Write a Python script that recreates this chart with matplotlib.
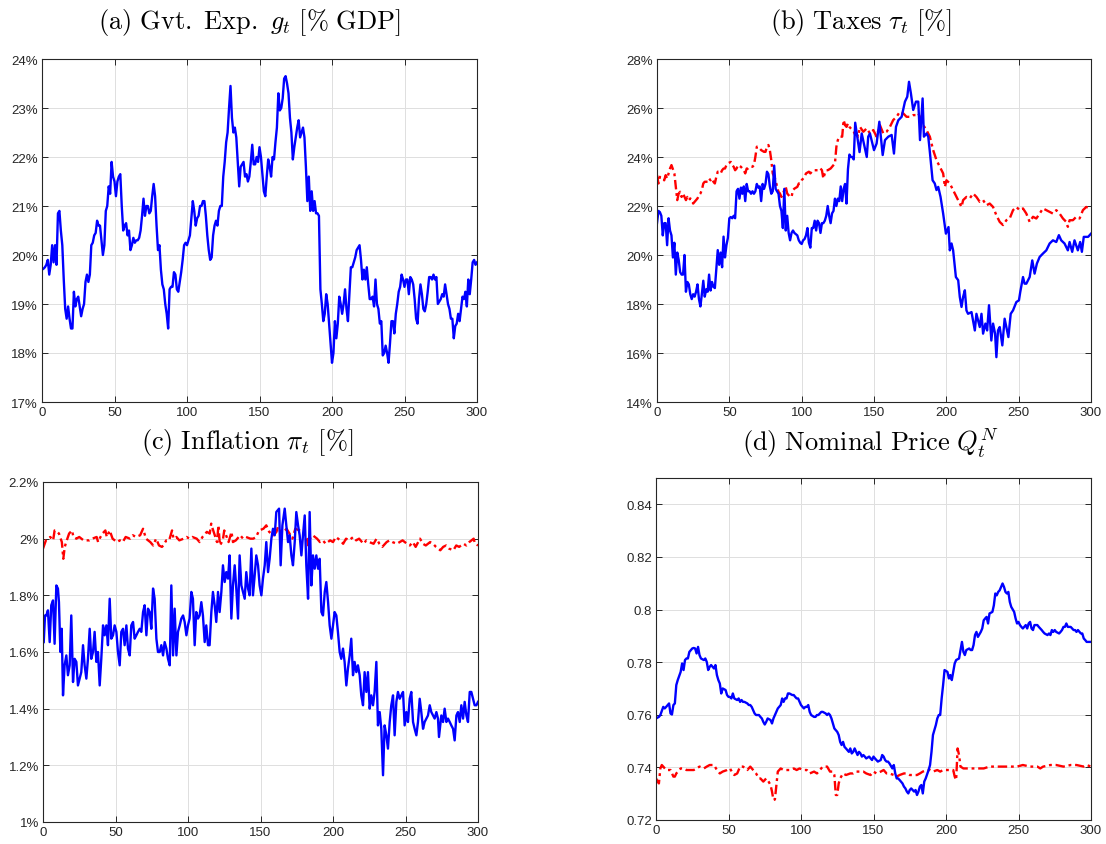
import numpy as np
import matplotlib
matplotlib.use("Agg")
import matplotlib.pyplot as plt
from matplotlib.ticker import FuncFormatter

plt.rcParams['font.family'] = ['Liberation Sans', 'DejaVu Sans']
plt.rcParams['mathtext.fontset'] = 'cm'

# ---------------- (a) Government expenditure [% GDP] ----------------
gov_t = list(range(0, 301))
gov = [19.7, 19.72, 19.75, 19.8, 19.9, 19.6, 19.8, 20.2, 19.85, 20.2,
       19.8, 20.85, 20.9, 20.5, 20.2, 19.5, 18.9, 18.7, 18.95, 18.7,
       18.5, 18.5, 19.25, 18.95, 19.1, 19.15, 18.95, 18.75, 18.9, 19.0,
       19.45, 19.6, 19.45, 19.6, 20.2, 20.25, 20.4, 20.45, 20.7, 20.6,
       20.6, 20.3, 20.0, 20.2, 20.9, 21.0, 21.4, 21.25, 21.9, 21.6,
       21.5, 21.2, 21.5, 21.6, 21.65, 21.0, 20.5, 20.6, 20.65, 20.4,
       20.5, 20.1, 20.2, 20.35, 20.25, 20.3, 20.3, 20.35, 20.5, 20.8,
       21.15, 20.8, 21.0, 21.0, 20.85, 20.9, 21.2, 21.45, 21.2, 20.6,
       20.1, 20.2, 19.7, 19.4, 19.3, 19.0, 18.8, 18.5, 19.3, 19.35,
       19.35, 19.65, 19.6, 19.3, 19.25, 19.45, 19.65, 19.9, 20.2, 20.25,
       20.2, 20.3, 20.4, 20.75, 21.1, 20.9, 20.6, 20.75, 20.8, 21.0,
       21.0, 21.1, 21.1, 20.8, 20.4, 20.1, 19.9, 19.95, 20.4, 20.6,
       20.7, 20.6, 20.9, 21.0, 21.0, 21.6, 21.9, 22.3, 22.5, 23.0,
       23.45, 22.8, 22.5, 22.6, 22.4, 21.9, 21.4, 21.8, 21.85, 21.9,
       21.6, 21.65, 21.5, 21.6, 21.9, 22.25, 21.85, 21.85, 22.0, 21.9,
       22.2, 22.0, 21.65, 21.3, 21.2, 21.6, 21.95, 21.8, 21.6, 22.0,
       21.95, 22.3, 22.6, 23.3, 22.95, 23.0, 23.2, 23.6, 23.65, 23.5,
       23.3, 22.8, 22.5, 21.95, 22.2, 22.4, 22.6, 22.75, 22.4, 22.5,
       22.6, 22.4, 21.8, 21.1, 21.6, 20.9, 21.3, 20.9, 21.1, 20.85,
       20.85, 20.8, 19.3, 19.0, 18.65, 18.8, 19.2, 19.0, 18.6, 18.2,
       17.8, 18.0, 18.65, 18.3, 18.6, 19.15, 19.0, 18.8, 19.0, 19.3,
       18.9, 18.65, 19.2, 19.75, 19.75, 19.85, 19.95, 20.1, 20.15, 20.2,
       19.9, 19.5, 19.7, 19.5, 19.75, 19.4, 19.1, 19.1, 19.15, 18.95,
       19.5, 19.0, 18.9, 18.6, 18.65, 17.95, 18.0, 18.15, 18.0, 17.8,
       18.2, 18.65, 18.65, 18.4, 18.8, 19.0, 19.25, 19.35, 19.6, 19.5,
       19.35, 19.5, 19.5, 19.2, 19.55, 19.5, 19.4, 19.1, 18.7, 18.6,
       19.1, 19.4, 19.2, 18.9, 18.85, 19.0, 19.25, 19.55, 19.55, 19.5,
       19.6, 19.5, 19.55, 19.0, 19.05, 19.1, 19.2, 19.15, 19.4, 19.2,
       19.0, 18.9, 18.7, 18.7, 18.3, 18.55, 18.6, 18.8, 18.65, 18.9,
       19.15, 19.1, 19.25, 18.95, 19.5, 19.2, 19.5, 19.85, 19.9, 19.8, 19.85]

# ---------------- (b) Taxes [%] ----------------
tax_blue_t = list(range(0, 141)) + [
    141.5, 145, 146, 147.2, 150, 151.8, 153.7, 156, 157.6, 159.9, 162.2, 163.8,
    165.2, 166.8, 169.1, 171.4, 173, 174.2, 175.5, 177.1, 179, 180.6, 181.8,
    183.6, 184.5, 186.3, 187.5, 188.6, 190.5, 192, 193.2, 194.4, 196, 197.8,
    199.7, 201.5, 202.4, 203.6, 204.7, 206.6, 208.2, 209.3, 210.5, 211.6, 212.8,
    213.9, 215, 217.4, 219.7, 220.8, 223.1, 224.3, 225.4, 227, 228.2, 229.5,
    231.1, 232.3, 233.7, 234.6, 235.7, 236.9, 238.7, 240.3, 241.5, 242.9, 244.5,
    246.1, 248.4, 250.2, 251.1, 253, 254.1, 255.3, 257.6, 259.4, 261, 262.6,
    264.5, 266.8, 269.1, 271.4, 273.7, 276, 277.8, 279.4, 281.7, 284, 285.2,
    287, 288.6, 290.9, 292.5, 293.7, 295, 296.7, 298, 300]
tax_blue = [
    21.3, 21.8, 21.75, 21.6, 20.8, 21.3, 21.3, 20.4, 21.5, 21.0,
    20.8, 19.9, 20.5, 19.2, 20.1, 19.8, 19.3, 19.2, 19.2, 20.0,
    18.5, 18.9, 18.8, 18.4, 18.2, 18.4, 18.3, 18.5, 18.8, 18.2,
    17.9, 18.4, 18.95, 18.3, 18.6, 18.5, 19.2, 18.55, 18.9, 18.7,
    18.65, 19.4, 20.2, 19.6, 20.1, 19.5, 20.75, 19.9, 20.4, 20.7,
    21.5, 21.55, 21.5, 21.6, 21.5, 22.6, 22.7, 22.3, 22.75, 22.5,
    22.8, 22.2, 22.9, 22.6, 22.6, 22.5, 22.6, 22.5, 22.6, 22.9,
    22.75, 22.8, 22.2, 22.9, 22.7, 22.9, 23.4, 23.3, 22.8, 22.5,
    22.6, 23.65, 22.7, 22.6, 22.5, 22.0, 21.8, 21.1, 22.7, 21.0,
    21.6, 20.9, 20.6, 20.9, 21.0, 20.9, 20.85, 20.8, 20.6, 20.5,
    20.45, 20.6, 20.65, 20.8, 21.1, 20.5, 20.3, 21.1, 21.1, 21.4,
    21.0, 21.4, 21.3, 20.9, 21.3, 21.3, 21.4, 21.6, 22.0, 21.6,
    21.3, 21.7, 21.8, 22.3, 22.0, 22.3, 22.2, 22.8, 22.2, 22.7,
    22.9, 22.1, 23.5, 24.1, 24.0, 24.0, 23.9, 25.4, 25.0, 24.6, 24.2,
    24.96, 24.0, 24.83, 24.96, 24.28, 24.55, 25.44, 24.08, 24.69, 24.83, 24.9, 24.14,
    25.23, 25.5, 25.64, 26.26, 26.46, 27.07, 26.6, 25.92, 26.26, 26.26, 24.69,
    26.39, 24.83, 24.96, 24.83, 24.21, 23.05, 22.92, 22.65, 22.78, 22.37, 21.69,
    20.87, 21.14, 20.19, 20.47, 20.19, 19.1, 18.97, 18.29, 17.88, 18.29, 18.56,
    17.74, 17.6, 17.67, 16.92, 17.6, 17.06, 17.6, 16.79, 17.2, 16.92, 17.95,
    16.51, 17.2, 16.79, 15.83, 16.92, 17.06, 16.31, 17.4, 17.06, 16.65, 17.6,
    17.74, 18.08, 18.15, 18.49, 19.1, 18.83, 18.83, 19.1, 19.78, 19.24, 19.65,
    19.92, 20.06, 20.19, 20.47, 20.6, 20.53, 20.81, 20.6, 20.47, 20.19, 20.53,
    20.13, 20.6, 20.19, 20.53, 20.13, 20.74, 20.74, 20.74, 20.87]

tax_red_t = [0, 1, 2, 3, 5, 6, 7, 8, 9, 10, 12, 14, 15, 16, 17, 18, 20, 21, 22, 23,
             24, 25, 26, 28, 29, 30, 31, 32, 33, 35, 36, 37, 38, 39, 40, 41, 42, 44,
             45, 46, 47, 48, 49, 51, 52, 53, 54, 55, 56, 58, 59, 60, 61, 62, 63, 64,
             66, 67, 68, 69, 70, 71, 72, 74, 75, 76, 77, 78, 79, 80, 82, 83, 84, 85,
             86, 87, 89, 90, 91, 92, 93, 94, 95, 97, 98, 99, 100, 101, 102, 103, 105,
             106, 107, 108, 109, 110, 112, 113, 114, 115, 116, 117, 118, 120, 121,
             122, 123, 124, 125, 126, 128, 129, 130, 131, 132, 133, 135, 136, 137,
             138, 139,
             140.3, 142.6, 145, 147.2, 149.5, 151.8, 154.1, 156.4, 158.7, 161, 163.3,
             165.6, 167.9, 170.2, 172.5, 174.8, 177.1, 179.4, 180.6, 181.7, 184, 186.3,
             188.6, 190.9, 193.2, 195.5, 197.8, 199, 200.1, 202.4, 204.7, 207, 209.3,
             210.5, 211.6, 213.9, 216.2, 218.5, 220.8, 223.1, 225.4, 227.7, 230, 232.3,
             234.6, 236.9, 239.2, 241.5, 243.8, 246.1, 248.4, 250.7, 253, 255.3, 257.6,
             259.9, 262.2, 264.5, 266.8, 269.1, 271.4, 273.7, 276, 278.3, 280.6, 282.9,
             284, 285.2, 287.5, 289.8, 292.1, 294.4, 296.7, 300]
tax_red = [23.26, 22.92, 23.19, 23.12, 23.05, 23.26, 23.12, 23.33, 23.53, 23.67, 23.33,
           22.24, 22.51, 22.58, 22.37, 22.51, 22.24, 22.37, 22.24, 22.31, 22.24, 22.1,
           22.17, 22.31, 22.44, 22.51, 22.65, 22.92, 22.99, 22.99, 23.12, 23.05, 23.12,
           22.99, 22.92, 23.19, 23.4, 23.33, 23.46, 23.53, 23.53, 23.67, 23.74, 23.8,
           23.67, 23.6, 23.46, 23.53, 23.67, 23.6, 23.53, 23.46, 23.33, 23.53, 23.53,
           23.6, 23.6, 23.67, 24.01, 24.42, 24.42, 24.35, 24.28, 24.21, 24.21, 24.42,
           24.49, 24.28, 23.87, 23.33, 23.05, 22.78, 22.58, 22.51, 22.37, 22.51, 22.78,
           22.51, 22.44, 22.37, 22.37, 22.65, 22.71, 22.78, 22.92, 22.92, 23.05, 23.12,
           23.19, 23.33, 23.4, 23.33, 23.4, 23.46, 23.46, 23.46, 23.46, 23.53, 23.46,
           23.12, 23.33, 23.46, 23.46, 23.53, 23.6, 23.67, 23.74, 24.42, 24.69, 24.83,
           24.83, 25.51, 25.3, 25.23, 25.37, 25.23, 25.1, 25.03, 24.9, 24.96, 24.83,
           25.23, 25.03, 25.17, 24.96, 25.1, 24.83, 25.3, 24.96, 25.03, 25.23, 25.51,
           25.64, 25.85, 25.78, 25.64, 25.64, 25.71, 25.71, 25.78, 25.64, 25.3, 25.1,
           24.83, 24.28, 23.87, 23.6, 23.33, 22.78, 23.05, 22.92, 22.65, 22.37, 22.1,
           21.96, 22.24, 22.37, 22.31, 22.51, 22.37, 22.17, 22.24, 22.03, 22.1, 21.96,
           21.62, 21.35, 21.22, 21.42, 21.49, 21.83, 21.96, 21.83, 21.9, 21.69, 21.35,
           21.56, 21.49, 21.69, 21.9, 21.83, 21.76, 21.69, 21.83, 21.69, 21.49, 21.35,
           21.15, 21.42, 21.42, 21.56, 21.49, 21.83, 21.96, 21.9]

# ---------------- (c) Inflation [%] ----------------
inf_blue_t = [0.5, 1.4, 2.3, 3.4, 4.6, 5.7, 6.9, 8.0, 9.2, 10.3, 11.0, 12.0, 12.9, 13.8,
              14.9, 16.1, 17.2, 18.4, 19.5, 20.7, 21.8, 23.0, 24.1, 25.3, 26.4, 27.6,
              28.7, 29.9, 31.0, 32.2, 33.3, 34.5, 35.6, 36.8, 37.9, 39.1, 40.2, 41.4,
              42.5, 43.7, 44.8, 46.0, 47.1, 48.3, 49.4, 50.6, 51.7, 52.9, 54.0, 55.2,
              56.3, 57.5, 58.6, 59.8, 60.9, 62.1, 63.2, 64.4, 65.5, 66.7, 67.8, 69.0,
              70.1, 71.3, 72.4, 73.6, 74.7, 75.9, 77.0, 78.2, 79.3, 80.5, 81.6, 82.8,
              83.9, 85.1, 86.2, 87.4, 88.5, 89.7, 90.8, 92.0, 93.1, 94.3, 95.4, 96.6,
              97.7, 98.9, 100.0, 101.1, 102.3, 103.4, 104.6, 105.7, 106.9, 108.0,
              109.2, 110.3, 111.5, 112.6, 113.8, 114.9, 116.1, 117.2, 118.4, 119.5,
              120.7, 121.8, 123.0, 124.1, 125.3, 126.4, 127.6, 128.7, 129.9, 131.0,
              132.2, 133.3, 134.5, 135.6, 136.8, 137.9, 139.1, 140.2, 141.4, 142.5,
              143.7, 144.8, 146.0, 147.1, 148.3, 149.4, 150.6, 151.7, 152.9, 154.0,
              155.2, 156.3, 157.5, 158.6, 159.8, 160.9,
              162.8, 163.9, 165.1, 166.7, 167.8, 169.0, 170.1, 171.3, 172.4, 173.6,
              174.7, 175.9, 177.0, 178.2, 179.3, 180.5, 181.6, 182.8, 183.9, 185.1,
              186.2, 187.4, 188.5, 189.7, 190.8, 192.0, 193.1, 194.3, 195.4, 196.6,
              197.7, 198.9, 200.0, 201.1, 202.3, 203.4, 204.6, 205.7, 206.9, 208.0,
              209.2, 210.3, 211.5, 212.6, 213.8, 214.9, 216.1, 217.2, 218.4, 219.5,
              220.7, 221.8, 223.0, 224.1, 225.3, 226.4, 227.6, 228.7, 229.9, 231.0,
              232.2, 233.3, 234.5, 235.6, 236.8, 237.9, 239.1, 240.2, 241.4, 242.5,
              243.7, 244.8, 246.0, 247.1, 248.3, 249.4, 250.6, 251.7, 252.9, 254.0,
              255.2, 256.3, 257.5, 258.6, 259.8, 260.9, 262.1, 263.2, 264.4, 265.5,
              266.7, 267.8, 269.0, 270.1, 271.3, 272.4, 273.1, 274.7, 275.9, 277.0,
              278.2, 279.3, 280.5, 281.6, 282.8, 283.9, 285.1, 286.2, 287.4, 288.5,
              289.7, 290.8, 292.0, 293.1, 294.3, 295.4, 296.6, 297.7, 298.9, 300.0]
inf_blue = [1.635, 1.729, 1.729, 1.747, 1.635, 1.765, 1.782, 1.629, 1.835, 1.824, 1.776,
            1.6, 1.682, 1.447, 1.553, 1.588, 1.518, 1.553, 1.729, 1.494, 1.576, 1.565,
            1.482, 1.506, 1.529, 1.624, 1.553, 1.506, 1.576, 1.682, 1.576, 1.6, 1.671,
            1.565, 1.6, 1.482, 1.576, 1.694, 1.659, 1.694, 1.624, 1.788, 1.647, 1.659,
            1.694, 1.671, 1.6, 1.553, 1.671, 1.682, 1.624, 1.694, 1.612, 1.588, 1.694,
            1.706, 1.647, 1.659, 1.671, 1.682, 1.671, 1.741, 1.765, 1.659, 1.753, 1.741,
            1.682, 1.824, 1.788, 1.647, 1.6, 1.6, 1.624, 1.588, 1.635, 1.612, 1.576,
            1.553, 1.835, 1.588, 1.753, 1.588, 1.671, 1.694, 1.718, 1.729, 1.706, 1.659,
            1.694, 1.718, 1.812, 1.788, 1.624, 1.741, 1.718, 1.729, 1.776, 1.729, 1.635,
            1.694, 1.624, 1.624, 1.741, 1.812, 1.765, 1.706, 1.812, 1.741, 1.812, 1.906,
            1.847, 1.882, 1.859, 1.941, 1.718, 1.835, 1.906, 1.824, 1.718, 1.941, 1.835,
            1.812, 1.788, 1.882, 1.824, 1.8, 1.965, 1.8, 1.871, 1.941, 1.906, 1.835, 1.8,
            1.859, 1.906, 1.988, 1.882, 1.929, 2.0, 2.035, 2.012, 2.094,
            2.106, 1.906, 2.047, 2.106, 2.047, 1.988, 2.012, 1.941, 1.906, 1.988,
            2.094, 2.047, 2.012, 1.941, 2.012, 2.082, 1.906, 1.788, 2.094, 1.835,
            1.941, 1.894, 1.941, 1.894, 1.929, 1.741, 1.729, 1.812, 1.847, 1.776,
            1.694, 1.647, 1.694, 1.741, 1.729, 1.671, 1.6, 1.576, 1.612, 1.565,
            1.482, 1.541, 1.588, 1.647, 1.518, 1.565, 1.529, 1.553, 1.518, 1.447,
            1.412, 1.529, 1.459, 1.529, 1.4, 1.447, 1.412, 1.459, 1.565, 1.341,
            1.388, 1.329, 1.165, 1.341, 1.306, 1.259, 1.353, 1.412, 1.447, 1.306,
            1.424, 1.459, 1.435, 1.447, 1.459, 1.341, 1.388, 1.353, 1.435, 1.459,
            1.353, 1.329, 1.306, 1.353, 1.435, 1.388, 1.329, 1.353, 1.365, 1.376,
            1.412, 1.388, 1.376, 1.365, 1.388, 1.365, 1.3, 1.376, 1.353, 1.4,
            1.353, 1.365, 1.353, 1.341, 1.329, 1.288, 1.376, 1.388, 1.353, 1.412,
            1.365, 1.424, 1.376, 1.353, 1.459, 1.459, 1.435, 1.412, 1.412, 1.424]

inf_red_t = [0, 2, 5, 7, 8, 9, 11, 13, 14, 15, 16, 18, 20, 21, 23, 25, 28, 30, 32, 34,
             37, 38, 39, 41, 43, 44, 46, 48, 51, 53, 55, 57, 60, 62, 64, 67, 69, 71, 74,
             76, 78, 80, 82, 83, 85, 87, 89, 90, 92, 94, 97, 99, 101, 103, 106, 108, 110,
             113, 115, 116, 117, 120, 121, 122, 124, 125, 128, 130, 131, 133, 136, 138,
             140, 143, 145, 147, 149, 152, 154, 156, 159, 161, 162, 163, 166, 168, 170,
             172, 174, 177, 179, 182, 183, 184, 186, 189, 191, 193, 195, 198, 200, 202,
             205, 207, 209, 211, 214, 216, 218, 221, 223, 225, 228, 230, 232, 234, 237,
             239, 241, 244, 246, 248, 251, 253, 255, 257, 260, 262, 264, 267, 269, 271,
             274, 276, 278, 280, 283, 285, 287, 290, 292, 294, 297, 298, 300]
inf_red = [1.965, 1.994, 2.006, 1.994, 2.029, 2.029, 2.018, 1.988, 1.929, 1.971, 1.988,
           2.018, 2.029, 2.006, 2.0, 2.006, 1.994, 1.994, 1.994, 2.0, 2.006, 1.988, 2.0,
           2.018, 2.029, 2.006, 2.029, 2.0, 1.988, 1.994, 1.988, 2.006, 2.0, 2.012,
           2.006, 2.012, 2.035, 2.0, 1.988, 1.976, 2.0, 1.976, 1.971, 1.976, 1.994,
           1.994, 2.029, 2.0, 2.006, 1.994, 2.0, 2.006, 2.0, 2.006, 2.0, 1.988, 2.006,
           2.024, 2.018, 2.053, 2.035, 1.988, 2.047, 1.976, 1.994, 2.029, 1.988, 2.024,
           1.988, 1.994, 2.012, 2.0, 2.006, 2.0, 2.0, 2.006, 2.029, 2.035, 2.047, 2.024,
           2.012, 2.024, 2.041, 2.029, 2.024, 2.035, 2.018, 2.0, 2.035, 2.029, 2.024,
           2.0, 1.976, 2.0, 2.012, 2.0, 1.988, 1.994, 1.982, 1.994, 1.988, 2.006, 1.994,
           1.982, 2.0, 1.994, 2.006, 1.994, 2.0, 1.982, 1.994, 1.988, 1.982, 2.0, 1.982,
           1.971, 1.988, 1.994, 1.988, 1.982, 1.988, 1.994, 1.982, 1.976, 1.988, 1.971,
           2.0, 1.982, 1.976, 1.988, 1.982, 1.971, 1.959, 1.971, 1.976, 1.965, 1.959,
           1.976, 1.971, 1.982, 1.976, 1.988, 2.0, 1.982, 1.976]

# ---------------- (d) Nominal price Q_t^N ----------------
q_blue_t = [1, 2, 3, 5, 6, 7, 9, 10, 11, 12, 13, 14, 15, 17, 18, 19, 20, 21, 22, 23, 25,
            26, 27, 28, 29, 30, 31, 33, 34, 35, 36, 37, 38, 40, 41, 42, 43, 44, 45, 46,
            48, 49, 50, 51, 52, 53, 54, 56, 57, 58, 59, 60, 61, 63, 64, 65, 66, 67, 68,
            69, 71, 72, 73, 74, 75, 76, 77, 79, 80, 81, 82, 83, 84, 86, 87, 88, 89, 90,
            91, 92, 94, 95, 96, 97, 98, 99, 100, 102, 103, 104, 105, 106, 107, 109, 110,
            111, 112, 113, 114, 115, 117, 118, 119, 120, 121, 122, 123, 125, 126, 127,
            128, 129, 130, 131, 133, 134, 135, 136, 137, 139, 140, 141, 142, 143, 144,
            145, 147, 148, 149, 150, 151, 152, 153, 155, 156, 157, 158, 159, 160, 161,
            163, 164, 165, 166, 167, 168, 170, 171, 172, 173, 174, 175, 176, 178, 179,
            180, 181, 182, 183, 184, 185, 186, 188, 189, 190, 191, 193, 194, 195, 196,
            197, 198, 199, 201, 202, 203, 204, 205, 206, 207, 209, 210, 211, 212, 213,
            214, 216, 217, 218, 219, 220, 221, 222, 224, 225, 226, 227, 228, 229, 230,
            232, 233, 234, 235, 236, 237, 239, 240, 241, 242, 243, 244, 245, 247, 248,
            249, 250, 251, 252, 253, 255, 256, 257, 258, 259, 260, 261, 263, 264, 265,
            266, 267, 268, 270, 271, 272, 273, 274, 275, 276, 278, 279, 280, 281, 282,
            283, 284, 286, 287, 288, 289, 290, 291, 293, 294, 295, 296, 297, 298, 300]
q_blue = [0.7589, 0.7592, 0.7599, 0.7630, 0.7624, 0.7630, 0.7643, 0.7605, 0.7601, 0.7637,
          0.7643, 0.7713, 0.7732, 0.7763, 0.7795, 0.7770, 0.7808, 0.7814, 0.7814, 0.7839,
          0.7852, 0.7854, 0.7852, 0.7833, 0.7858, 0.7827, 0.7814, 0.7808, 0.7814, 0.7801,
          0.7770, 0.7782, 0.7789, 0.7776, 0.7789, 0.7751, 0.7732, 0.7719, 0.7681, 0.7700,
          0.7694, 0.7675, 0.7668, 0.7668, 0.7662, 0.7681, 0.7662, 0.7656, 0.7662, 0.7649,
          0.7656, 0.7649, 0.7649, 0.7643, 0.7637, 0.7637, 0.7630, 0.7618, 0.7605, 0.7599,
          0.7599, 0.7592, 0.7586, 0.7573, 0.7563, 0.7573, 0.7586, 0.7580, 0.7567, 0.7586,
          0.7599, 0.7611, 0.7624, 0.7637, 0.7662, 0.7649, 0.7662, 0.7662, 0.7681, 0.7681,
          0.7675, 0.7675, 0.7668, 0.7662, 0.7662, 0.7649, 0.7637, 0.7624, 0.7630, 0.7630,
          0.7637, 0.7611, 0.7599, 0.7592, 0.7592, 0.7599, 0.7599, 0.7605, 0.7611, 0.7611,
          0.7605, 0.7599, 0.7605, 0.7599, 0.7586, 0.7567, 0.7548, 0.7535, 0.7523, 0.7497,
          0.7485, 0.7497, 0.7478, 0.7472, 0.7459, 0.7472,
          0.7453, 0.7459, 0.7472, 0.7447, 0.7459, 0.7453, 0.7441, 0.7447, 0.7441, 0.7434,
          0.7441, 0.7434, 0.7428, 0.7441, 0.7434, 0.7428, 0.7422, 0.7428, 0.7447, 0.7441,
          0.7428, 0.7422, 0.7422, 0.7415, 0.7396, 0.7409, 0.7377, 0.7358, 0.7358, 0.7352,
          0.7339, 0.7327, 0.7320, 0.7308, 0.7301, 0.7314, 0.7320, 0.7308, 0.7314, 0.7295,
          0.7308, 0.7327, 0.7333, 0.7301, 0.7346, 0.7358, 0.7390, 0.7409, 0.7459, 0.7523,
          0.7561, 0.7586, 0.7599, 0.7599, 0.7662, 0.7713, 0.7770, 0.7763, 0.7738, 0.7751,
          0.7732, 0.7763, 0.7795, 0.7808, 0.7814, 0.7846, 0.7877, 0.7839, 0.7827, 0.7846,
          0.7852, 0.7846, 0.7846, 0.7865, 0.7903, 0.7915, 0.7896, 0.7915, 0.7928, 0.7959,
          0.7966, 0.7972, 0.7947, 0.7985, 0.7991, 0.8016, 0.8061, 0.8054, 0.8067, 0.8073,
          0.8099, 0.8086, 0.8067, 0.8061, 0.8067, 0.8029, 0.8010, 0.7991, 0.7966, 0.7947,
          0.7953, 0.7941, 0.7934, 0.7928, 0.7941, 0.7928, 0.7947, 0.7953, 0.7928, 0.7922,
          0.7941, 0.7941, 0.7934, 0.7928, 0.7922, 0.7915, 0.7909, 0.7903, 0.7909, 0.7903,
          0.7922, 0.7915, 0.7922, 0.7915, 0.7909, 0.7915, 0.7922, 0.7934, 0.7934, 0.7947,
          0.7934, 0.7934, 0.7928, 0.7922, 0.7922, 0.7915, 0.7922, 0.7909, 0.7909, 0.7890,
          0.7884, 0.7877, 0.7877, 0.7877]

q_red_t = [0, 2, 3, 4, 5, 7, 10, 11, 12, 13, 14, 17, 19, 21, 23, 26, 28, 30, 33, 35, 37,
           40, 42, 44, 46, 49, 51, 53, 54, 56, 58, 60, 63, 65, 67, 69, 71, 72, 74, 76, 77,
           79, 80, 81, 82, 83, 84, 86, 88, 90, 92, 95, 97, 99, 102, 104, 106, 109, 111,
           113, 115, 118, 120, 122, 123, 124, 125, 126, 127, 129, 131, 134, 136, 138,
           141, 143, 145, 148, 150, 152, 155, 157, 159, 161, 164, 166, 168, 171, 173,
           175, 178, 180, 182, 184, 187, 189, 191, 194, 196, 198, 201, 203, 205, 206,
           207, 208, 209, 210, 212, 217, 221, 226, 230, 235, 240, 244, 249, 253, 258,
           263, 265, 267, 272, 276, 281, 286, 290, 295, 297, 300]
q_red = [0.7358, 0.7339, 0.7396, 0.7409, 0.7403, 0.7390, 0.7390, 0.7377, 0.7365, 0.7365,
         0.7377, 0.7396, 0.7396, 0.7390, 0.7390, 0.7390, 0.7396, 0.7403, 0.7396, 0.7403,
         0.7409, 0.7409, 0.7390, 0.7377, 0.7384, 0.7390, 0.7396, 0.7377, 0.7371, 0.7377,
         0.7403, 0.7403, 0.7390, 0.7403, 0.7390, 0.7377, 0.7358, 0.7358, 0.7346, 0.7358,
         0.7352, 0.7333, 0.7308, 0.7276, 0.7278, 0.7333, 0.7384, 0.7396, 0.7390, 0.7390,
         0.7390, 0.7396, 0.7390, 0.7396, 0.7390, 0.7390, 0.7377, 0.7384, 0.7377, 0.7390,
         0.7403, 0.7403, 0.7384, 0.7384, 0.7371, 0.7295, 0.7295, 0.7339, 0.7358, 0.7377,
         0.7371, 0.7377, 0.7377, 0.7384, 0.7384, 0.7384, 0.7377, 0.7371, 0.7384, 0.7377,
         0.7384, 0.7390, 0.7377, 0.7377, 0.7371, 0.7365, 0.7371, 0.7377, 0.7377, 0.7371,
         0.7371, 0.7371, 0.7377, 0.7384, 0.7390, 0.7390, 0.7384, 0.7390, 0.7384, 0.7390,
         0.7390, 0.7390, 0.7390, 0.7365, 0.7352, 0.7472, 0.7447, 0.7403, 0.7396, 0.7396,
         0.7396, 0.7396, 0.7403, 0.7403, 0.7403, 0.7403, 0.7403, 0.7409, 0.7403, 0.7403,
         0.7396, 0.7403, 0.7409, 0.7409, 0.7403, 0.7409, 0.7409, 0.7403, 0.7409, 0.7403]

titles = [r'$\mathrm{(a)\ Gvt.\ Exp.\ }g_t\ \mathrm{[\%\ GDP]}$',
          r'$\mathrm{(b)\ Taxes\ }\tau_t\ \mathrm{[\%]}$',
          r'$\mathrm{(c)\ Inflation\ }\pi_t\ \mathrm{[\%]}$',
          r'$\mathrm{(d)\ Nominal\ Price\ }Q_t^N$']
x_ticks = [0, 50, 100, 150, 200, 250, 300]

BLUE = '#0000ff'
RED = '#ff0000'
EDGE = '#262626'

fig = plt.figure(figsize=(11.06, 8.45), dpi=100)
W, H = 1106, 845
boxes = [(42, 60, 477, 403), (657, 60, 1091, 403), (43, 483, 478, 823), (656, 479, 1091, 821)]
title_xy = [(249, 22), (861, 22), (247, 443), (871, 443)]
axes = []
for (l, t, r, b) in boxes:
    axes.append(fig.add_axes([l / W, 1 - b / H, (r - l) / W, (b - t) / H]))


def style(ax, ylim, yticks, fmt):
    ax.set_xlim(0, 300)
    ax.set_ylim(*ylim)
    ax.set_xticks(x_ticks)
    ax.set_yticks(yticks)
    ax.yaxis.set_major_formatter(FuncFormatter(fmt))
    ax.grid(True, color='#dfdfdf', linewidth=0.7)
    ax.set_axisbelow(True)
    for s in ax.spines.values():
        s.set_color(EDGE)
        s.set_linewidth(0.8)
    ax.tick_params(direction='in', length=4, width=0.7, top=True, right=True,
                   colors=EDGE, labelsize=9.5, pad=3)


pct = lambda v, p: '%g%%' % round(v, 4)
plain = lambda v, p: '%g' % round(v, 4)
DASH = (4, 1.6, 1.2, 1.6)

ax = axes[0]
ax.plot(gov_t, gov, color=BLUE, lw=1.7)
style(ax, (17, 24), [17, 18, 19, 20, 21, 22, 23, 24], pct)

ax = axes[1]
ax.plot(tax_red_t, tax_red, color=RED, lw=1.7, ls=(0, DASH))
ax.plot(tax_blue_t, tax_blue, color=BLUE, lw=1.7)
style(ax, (14, 28), [14, 16, 18, 20, 22, 24, 26, 28], pct)

ax = axes[2]
ax.plot(inf_red_t, inf_red, color=RED, lw=1.7, ls=(0, DASH))
ax.plot(inf_blue_t, inf_blue, color=BLUE, lw=1.7)
style(ax, (1.0, 2.2), [1.0, 1.2, 1.4, 1.6, 1.8, 2.0, 2.2], pct)

ax = axes[3]
ax.plot(q_red_t, q_red, color=RED, lw=1.7, ls=(0, DASH))
ax.plot(q_blue_t, q_blue, color=BLUE, lw=1.7)
style(ax, (0.72, 0.85), [0.72, 0.74, 0.76, 0.78, 0.80, 0.82, 0.84], plain)

for (tx, ty), ttl in zip(title_xy, titles):
    fig.text(tx / W, 1 - ty / H, ttl, fontsize=19, ha='center', va='center', color='black')

fig.savefig('out.png', dpi=100)
